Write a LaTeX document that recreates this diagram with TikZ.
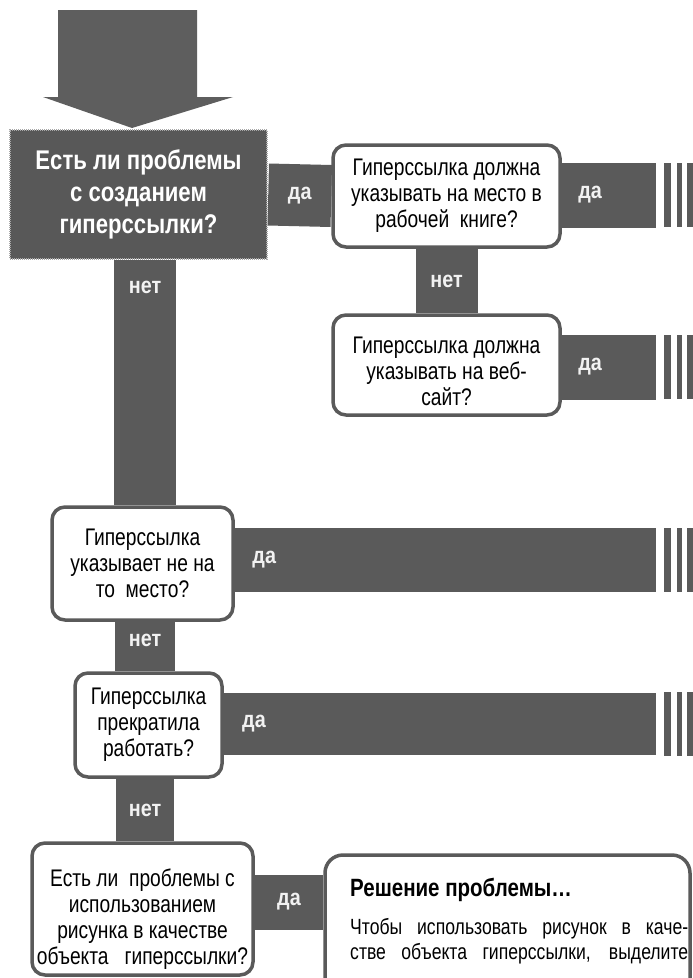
\documentclass[tikz,border=0pt]{standalone}
\usepackage{fontspec}
\setmainfont{Liberation Sans}
\newfontfamily\qfont{Liberation Sans}[FakeStretch=0.8]
\newfontfamily\bfnt{Liberation Sans}[FakeStretch=0.82]
\newfontfamily\lfnt{Liberation Sans}[FakeStretch=0.86]
\usetikzlibrary{backgrounds}
\definecolor{dgray}{HTML}{5A5A5A}
\definecolor{bgray}{HTML}{585858}
\definecolor{egray}{HTML}{A8A8A8}
\definecolor{agray}{HTML}{5E5E5E}
\definecolor{lbltext}{HTML}{F2F2F2}
\tikzset{
  qbox/.style={draw=dgray, line width=3.5pt, rounded corners=13pt, fill=white,
    align=center, inner sep=0pt, text=black,
    font=\qfont\fontsize{24}{26}\selectfont},
  qtext/.style={align=center, inner sep=0pt, text=black,
    font=\qfont\fontsize{24}{26}\selectfont},
  mainbox/.style={fill=bgray, draw=egray, line width=2.5pt,
    dash pattern=on 1pt off 1pt, align=center, inner sep=0pt, text=white,
    font=\bfnt\bfseries\fontsize{27}{32}\selectfont},
  hbar/.style={draw=dgray, line width=#1, line cap=butt},
  lbl/.style={text=lbltext, inner sep=0pt, font=\lfnt\bfseries\fontsize{23}{26}\selectfont},
  endmark/.pic={
    \fill[dgray] (8,-32) rectangle (15,32);
    \fill[dgray] (21,-32) rectangle (26,32);
    \fill[dgray] (31,-32) rectangle (40,32);
  }
}
\begin{document}
\begin{tikzpicture}[x=1pt,y=-1pt]
\useasboundingbox (0,0) rectangle (693,978);
\clip (0,0) rectangle (693,978);

% entry arrow
\fill[agray] (58,10) -- (197,10) -- (197,97) -- (233,97) -- (132,128) -- (43,97) -- (58,97) -- cycle;

% boxes
\node[mainbox, minimum width=257pt, minimum height=129pt] (main) at (138.5,194.5)
  {Есть ли проблемы\\с созданием\\гиперссылки?};
\node[qbox, minimum width=227pt, minimum height=102pt] (q2) at (446.5,196)
  {Гиперссылка должна\\указывать на место в\\рабочей\ \ книге?};
\node[qbox, minimum width=227pt, minimum height=100pt] (q3) at (446.5,365) {};
\node[qtext] (q3t) at (446.5,371) {Гиперссылка должна\\указывать на веб-\\сайт?};
\node[qbox, minimum width=181pt, minimum height=113pt] (q4) at (142.5,563.5)
  {Гиперссылка\\указывает не на\\то\ \ место?};
\node[qbox, minimum width=147pt, minimum height=104pt] (q5) at (148.5,725)
  {Гиперссылка\\прекратила\\работать?};
\node[qbox, minimum width=221pt, minimum height=132pt] (q6) at (142.5,909) {};
\node[qtext] (q6t) at (142.5,919)
  {Есть ли\ \ проблемы с\\использованием\\рисунка в качестве\\объекта\ \ \ гиперссылки?};
\node[qbox, minimum width=365pt, minimum height=170pt, rounded corners=18pt] (sol) at (507.5,940) {};
\node[anchor=west, inner sep=0pt, font=\bfnt\bfseries\fontsize{25}{28}\selectfont] (soltitle) at (350,890)
  {Решение проблемы…};
\node[anchor=north west, inner sep=0pt, align=left, font=\qfont\fontsize{22}{25}\selectfont] (soltext) at (350,918)
  {\makebox[338pt][s]{Чтобы использовать рисунок в каче-}\\\makebox[338pt][s]{стве объекта гиперссылки, выделите}};

% free ends and helpers
\coordinate (tx) at (145,0);
\coordinate (e1) at (656,195);
\coordinate (e2) at (656,367);
\coordinate (e3) at (656,560);
\coordinate (e4) at (656,724);
\coordinate (cy) at (0,902);

\begin{pgfonlayer}{background}
\fill[white] (0,0) rectangle (693,978);
\draw[hbar=62pt] (main.east) -- node[lbl]{да} (q2.west);
\draw[hbar=65pt] (q2.east |- e1) -- node[lbl, pos=0.3]{да} (e1);
\draw[hbar=62pt] (q2.south) -- node[lbl]{нет} (q3.north);
\draw[hbar=65pt] (q3.east |- e2) -- node[lbl, pos=0.3]{да} (e2);
\draw[hbar=62pt] (main.south -| tx) -- node[lbl, pos=0.11]{нет} (q4.north -| tx);
\draw[hbar=64pt] (q4.east |- e3) -- node[lbl, pos=0.07]{да} (e3);
\draw[hbar=60pt] (q4.south -| tx) -- node[lbl, pos=0.38]{нет} (q5.north -| tx);
\draw[hbar=62pt] (q5.east |- e4) -- node[lbl, pos=0.07]{да} (e4);
\draw[hbar=58pt] (q5.south -| tx) -- node[lbl]{нет} (q6.north -| tx);
\draw[hbar=55pt] (q6.east |- cy) -- node[lbl]{да} (sol.west |- cy);
\pic at (e1) {endmark};
\pic at (e2) {endmark};
\pic at (e3) {endmark};
\pic at (e4) {endmark};
\end{pgfonlayer}
\end{tikzpicture}
\end{document}
